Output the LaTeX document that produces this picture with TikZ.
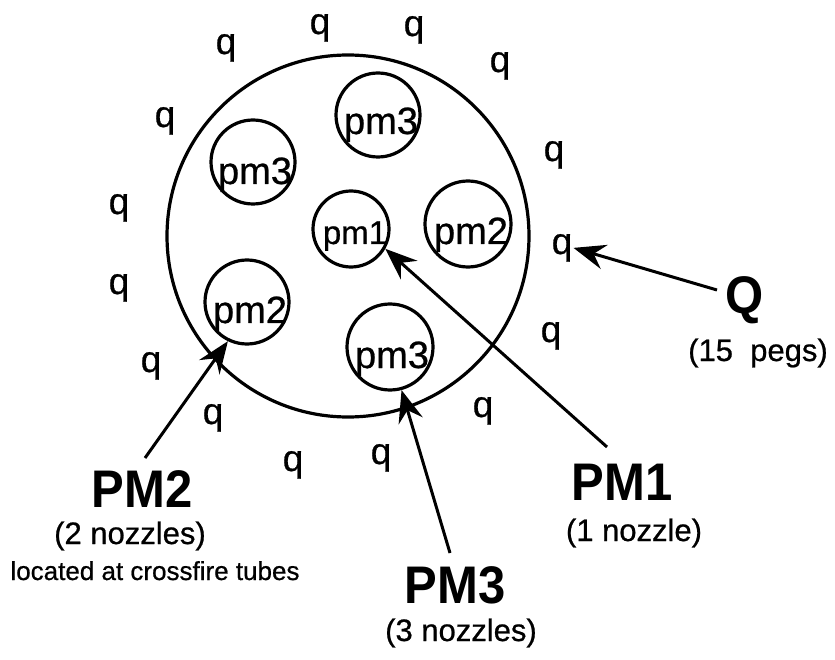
\documentclass[tikz,border=0pt]{standalone}
\usepackage{fontspec}
\setmainfont{Liberation Sans}
\newfontfamily\heavyfont{Liberation Sans}[FakeBold=0.7]
\usetikzlibrary{arrows.meta}
\begin{document}
\begin{tikzpicture}[x=1pt,y=-1pt,
  ring/.style={draw, line width=3.2pt, circle, inner sep=0pt, minimum size=#1},
  peg/.style={anchor=base, inner sep=1pt, font=\heavyfont\fontsize{37}{40}\selectfont},
  pmtxt/.style={anchor=base, inner sep=0pt, font=\heavyfont\fontsize{38}{40}\selectfont},
  biglabel/.style={anchor=base, inner sep=0pt, font=\fontsize{49}{52}\selectfont\bfseries},
  sublabel/.style={anchor=base, inner sep=0pt, font=\heavyfont\fontsize{31}{34}\selectfont},
  smalllabel/.style={anchor=base, inner sep=0pt, font=\heavyfont\fontsize{26}{30}\selectfont},
  arr/.style={line width=3pt, -{Stealth[length=32pt,width=25pt,inset=11pt]}}
]
\useasboundingbox (0,0) rectangle (835,660);

% main circle
\node[ring=362pt] (main) at (348,236) {};

% inner circles
\node[ring=84pt] (pm3a) at (378,115) {};
\node[ring=84pt] (pm3b) at (253,162) {};
\node[ring=76pt] (pm1c) at (351,229) {};
\node[ring=86pt] (pm2a) at (468,224) {};
\node[ring=84pt] (pm2b) at (247,302) {};
\node[ring=86pt] (pm3c) at (390,347) {};

\node[pmtxt] (t3a) at (381,134) {pm3};
\node[pmtxt] (t3b) at (255,184) {pm3};
\node[pmtxt, font=\heavyfont\fontsize{33}{35}\selectfont] (t1) at (355,244) {pm1};
\node[pmtxt] (t2a) at (471,244) {pm2};
\node[pmtxt] (t2b) at (250,323) {pm2};
\node[pmtxt] (t3c) at (392,368) {pm3};

% pegs
\node[peg] (q1) at (226,54) {q};
\node[peg] (q2) at (320,34) {q};
\node[peg] (q3) at (414,36) {q};
\node[peg] (q4) at (500,72) {q};
\node[peg] (q5) at (165,127) {q};
\node[peg] (q6) at (119,214) {q};
\node[peg] (q7) at (119,294) {q};
\node[peg] (q8) at (151,372) {q};
\node[peg] (q9) at (213,424) {q};
\node[peg] (q10) at (293,471) {q};
\node[peg] (q11) at (381,464) {q};
\node[peg] (q12) at (483,417) {q};
\node[peg] (q13) at (554,161) {q};
\node[peg] (q14) at (562,254) {q};
\node[peg] (q15) at (551,342) {q};

% labels
\node[biglabel] (Q) at (745,313) {\scalebox{1}[1.08]{Q}};
\node[sublabel] (Qs) at (758,361) {(15\ \ pegs)};
\node[biglabel] (PM1) at (622,500) {\scalebox{1}[1.08]{PM1}};
\node[sublabel] (PM1s) at (634,541) {(1 nozzle)};
\node[biglabel] (PM3) at (455,603) {\scalebox{1}[1.08]{PM3}};
\node[sublabel] (PM3s) at (461,641) {(3 nozzles)};
\node[biglabel] (PM2) at (142,507) {\scalebox{1}[1.08]{PM2}};
\node[sublabel] (PM2s) at (130,544) {(2 nozzles)};
\node[smalllabel] (PM2t) at (155,580) {located at crossfire tubes};

% arrow tails
\coordinate (tQ) at (717,290);
\coordinate (tPM1) at (607,447);
\coordinate (tPM3) at (450,553);
\coordinate (tPM2) at (145,458);

\draw[arr] (tQ) -- (q14.east);
\draw[arr] (tPM1) -- (pm1c.-30);
\draw[arr] (tPM3) -- (pm3c.-75);
\draw[arr] (tPM2) -- (pm2b.-116);
\end{tikzpicture}
\end{document}
